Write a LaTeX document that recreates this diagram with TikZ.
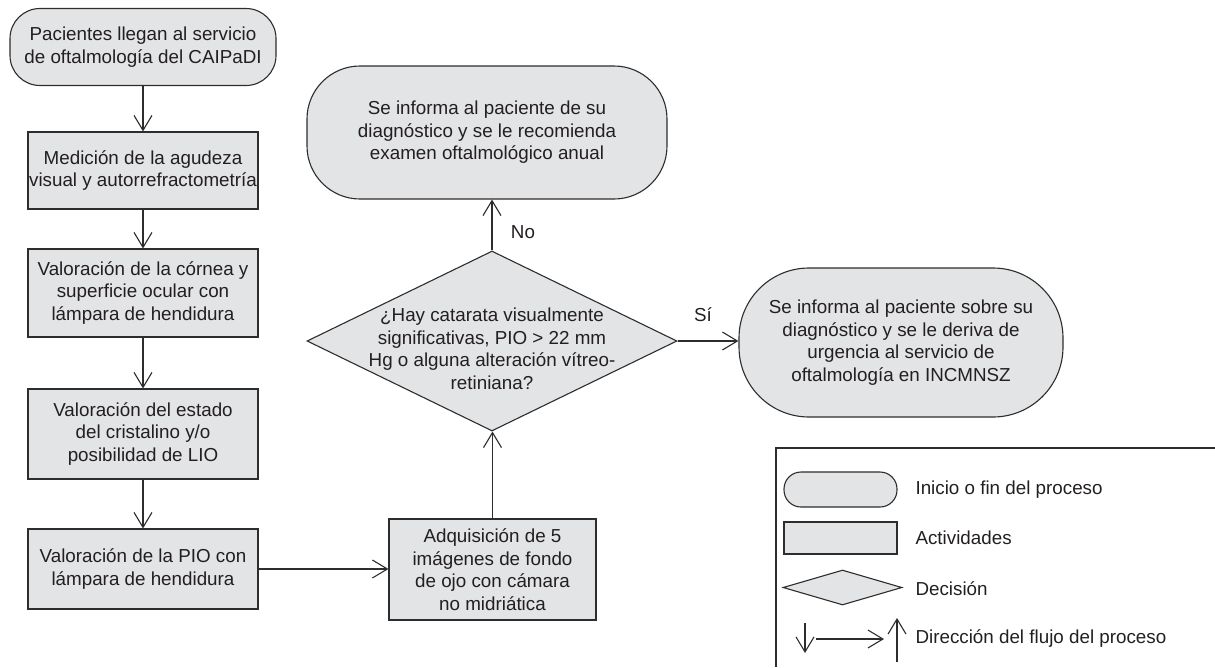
\documentclass[tikz,border=0pt]{standalone}
\usepackage{fontspec}
\setmainfont{Liberation Sans}
\usetikzlibrary{arrows.meta,shapes.geometric,positioning}
\definecolor{boxfill}{RGB}{227,228,229}
\definecolor{boxline}{RGB}{45,45,45}
\definecolor{txt}{RGB}{35,31,32}

\begin{document}
\begin{tikzpicture}
[x = 1pt,
y = -1pt,
font = \fontsize{18.8}{22.5}\selectfont,
every node/.style = {text=txt},
flow/.style = {draw=boxline, line width=1.1pt, -{Straight Barb[length=15pt,width=18pt]}},
activity/.style = {draw=boxline, fill=boxfill, line width=1.1pt, inner sep=1pt, align=center},
terminal/.style = {activity, rounded corners=#1},
decision/.style = {draw=boxline, fill=boxfill, line width=1.1pt, diamond, inner sep=0pt}]
\useasboundingbox (0,0) rectangle (1215,667);

\node[terminal=30, minimum width=266pt, minimum height=77pt] (inicio) at (143,47) {Pacientes llegan al servicio\\de oftalmología del CAIPaDI};
\node[activity, minimum width=230pt, minimum height=77pt] (agudeza) at (143,170.5) {Medición de la agudeza\\visual y autorrefractometría};
\node[activity, minimum width=230pt, minimum height=88pt] (cornea) at (143,293) {Valoración de la córnea y\\superficie ocular con\\lámpara de hendidura};
\node[activity, minimum width=230pt, minimum height=90pt] (cristalino) at (143,434) {Valoración del estado\\del cristalino y/o\\posibilidad de LIO};
\node[activity, minimum width=230pt, minimum height=80pt] (pio) at (143,569) {Valoración de la PIO con\\lámpara de hendidura};
\node[activity, minimum width=207pt, minimum height=101pt] (fondo) at (492.5,569.5) {Adquisición de 5\\imágenes de fondo\\de ojo con cámara\\no midriática};
\node[decision, minimum width=370pt, minimum height=180pt] (catarata) at (492,341) {};
\node[align=center] (pregunta) at (492,349) {¿Hay catarata visualmente\\significativas, PIO > 22 mm\\Hg o alguna alteración vítreo-\\retiniana?};
\node[terminal=53, minimum width=360pt, minimum height=133pt] (anual) at (487,132.5) {Se informa al paciente de su\\diagnóstico y se le recomienda\\examen oftalmológico anual};
\node[terminal=70, minimum width=324pt, minimum height=149pt] (urgencia) at (901,342.5) {Se informa al paciente sobre su\\diagnóstico y se le deriva de\\urgencia al servicio de\\oftalmología en INCMNSZ};

\draw[flow] (inicio) -- (agudeza);
\draw[flow] (agudeza) -- (cornea);
\draw[flow] (cornea) -- (cristalino);
\draw[flow] (cristalino) -- (pio);
\draw[flow] (pio.east) -- (pio.east -| fondo.west);
\draw[flow] (fondo.north) -- (fondo.north |- catarata.south);
\draw[flow] (catarata.north) -- (catarata.north |- anual.south);
\draw[flow] (catarata.east) -- (catarata.east -| urgencia.west);
\node[] (no) at (523,232) {No};
\node[] (si) at (703,315) {Sí};

\draw[boxline, line width=1.1pt] (1215,448) -- (776,448) -- (776,667);
\node[terminal=17, minimum width=113pt, minimum height=35pt] (leyinicio) at (840.5,489.5) {};
\node[activity, minimum width=113pt, minimum height=32pt] (leyact) at (840.5,538) {};
\node[decision, minimum width=119pt, minimum height=35pt] (leydec) at (842.5,587.5) {};
\node[right] (txtinicio) at (912,490) {Inicio o fin del proceso};
\node[right] (txtact) at (912,538) {Actividades};
\node[right] (txtdec) at (912,589) {Decisión};
\node[right] (txtflujo) at (912,639) {Dirección del flujo del proceso};
\coordinate (abajoA) at (805,623);
\coordinate (abajoB) at (805,653);
\coordinate (derA) at (816,639);
\coordinate (derB) at (884,639);
\coordinate (arribaA) at (897,662);
\coordinate (arribaB) at (897,618);
\draw[flow] (abajoA) -- (abajoB);
\draw[flow] (derA) -- (derB);
\draw[flow] (arribaA) -- (arribaB);
\end{tikzpicture}
\end{document}
